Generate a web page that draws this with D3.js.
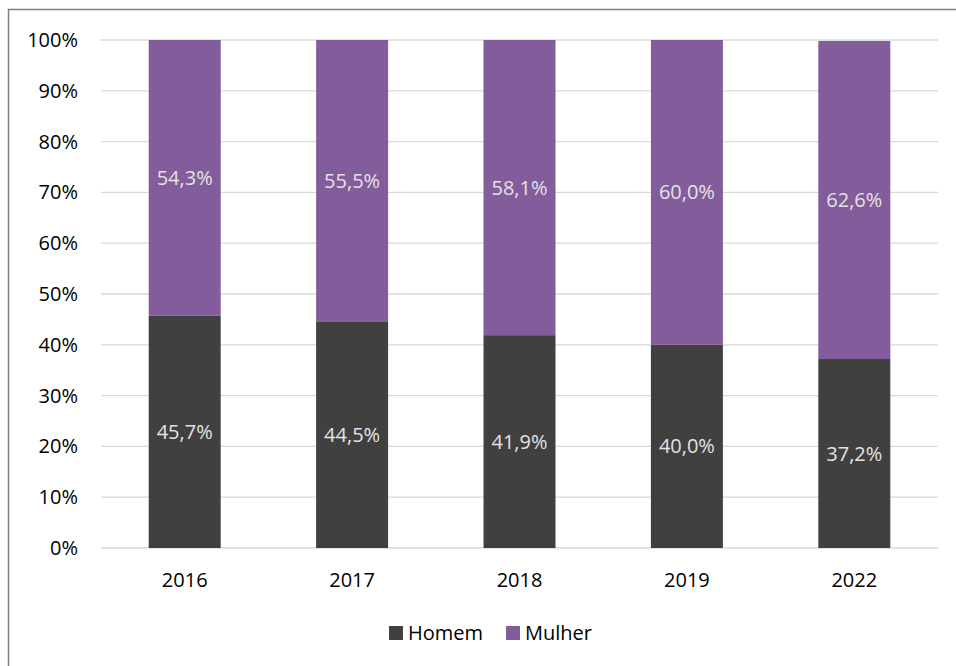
<!DOCTYPE html>
<html><head><meta charset="utf-8">
<script src="https://cdn.jsdelivr.net/npm/d3@7"></script>
<style>body{margin:0;background:#fff}svg{display:block}</style>
</head><body>
<script>
const years = ["2016","2017","2018","2019","2022"];
const homem = [45.7,44.5,41.9,40.0,37.2];
const mulher = [54.3,55.5,58.1,60.0,62.6];
const seriesNames = ["Homem","Mulher"];
const seriesColors = ["#404040","#835C9B"];
const yTicks = [0,10,20,30,40,50,60,70,80,90,100];

const W=956,H=666;
const m={left:101,right:18,top:40,bottom:118};
const svg=d3.select("body").append("svg").attr("width",W).attr("height",H);
const font="'Open Sans', sans-serif";
const fs=20;

// frame (left + top)
svg.append("path").attr("d","M8.5,666 L8.5,9.5 L956,9.5").attr("fill","none").attr("stroke","#7f7f7f").attr("stroke-width",1.5);

const x=d3.scaleBand().domain(years).range([m.left,W-m.right]).paddingInner(0.57).paddingOuter(0.285);
const y=d3.scaleLinear().domain([0,100]).range([H-m.bottom,m.top]);

// grid
svg.append("g").selectAll("line").data(yTicks).join("line")
 .attr("x1",m.left).attr("x2",W-m.right).attr("y1",d=>y(d)).attr("y2",d=>y(d))
 .attr("stroke","#d9d9d9").attr("stroke-width",1.3);

// y axis labels
const yAxis=d3.axisLeft(y).tickValues(yTicks).tickFormat(d=>d+"%").tickSize(0).tickPadding(23);
const ga=svg.append("g").attr("transform",`translate(${m.left},0)`).call(yAxis);
ga.select(".domain").remove();
ga.selectAll("text").attr("font-family",font).attr("font-size",fs).attr("fill","#000");

// stacked data
const rows=years.map((yr,i)=>({year:yr,Homem:homem[i],Mulher:mulher[i]}));
const stack=d3.stack().keys(seriesNames)(rows);
const fmt=v=>v.toFixed(1).replace(".",",")+"%";

stack.forEach((s,si)=>{
  const g=svg.append("g");
  g.selectAll("rect").data(s).join("rect")
   .attr("x",d=>x(d.data.year)).attr("width",x.bandwidth())
   .attr("y",d=>y(d[1])).attr("height",d=>y(d[0])-y(d[1]))
   .attr("fill",seriesColors[si]);
  g.selectAll("text").data(s).join("text")
   .attr("x",d=>x(d.data.year)+x.bandwidth()/2)
   .attr("y",d=>(y(d[0])+y(d[1]))/2)
   .attr("dy","0.35em").attr("text-anchor","middle")
   .attr("font-family",font).attr("font-size",fs).attr("fill","#e3e3e3")
   .text(d=>fmt(d.data[s.key]));
});

// x axis labels
const xAxis=d3.axisBottom(x).tickSize(0).tickPadding(25);
const gx=svg.append("g").attr("transform",`translate(0,${H-m.bottom})`).call(xAxis);
gx.select(".domain").remove();
gx.selectAll("text").attr("font-family",font).attr("font-size",fs).attr("fill","#000");

// legend
const leg=svg.append("g");
const legX=[389,506];
seriesNames.forEach((n,i)=>{
  leg.append("rect").attr("x",legX[i]).attr("y",626).attr("width",14).attr("height",14).attr("fill",seriesColors[i]);
  leg.append("text").attr("x",legX[i]+19).attr("y",633).attr("dy","0.35em")
   .attr("font-family",font).attr("font-size",fs).attr("fill","#000").text(n);
});
</script>
</body></html>
